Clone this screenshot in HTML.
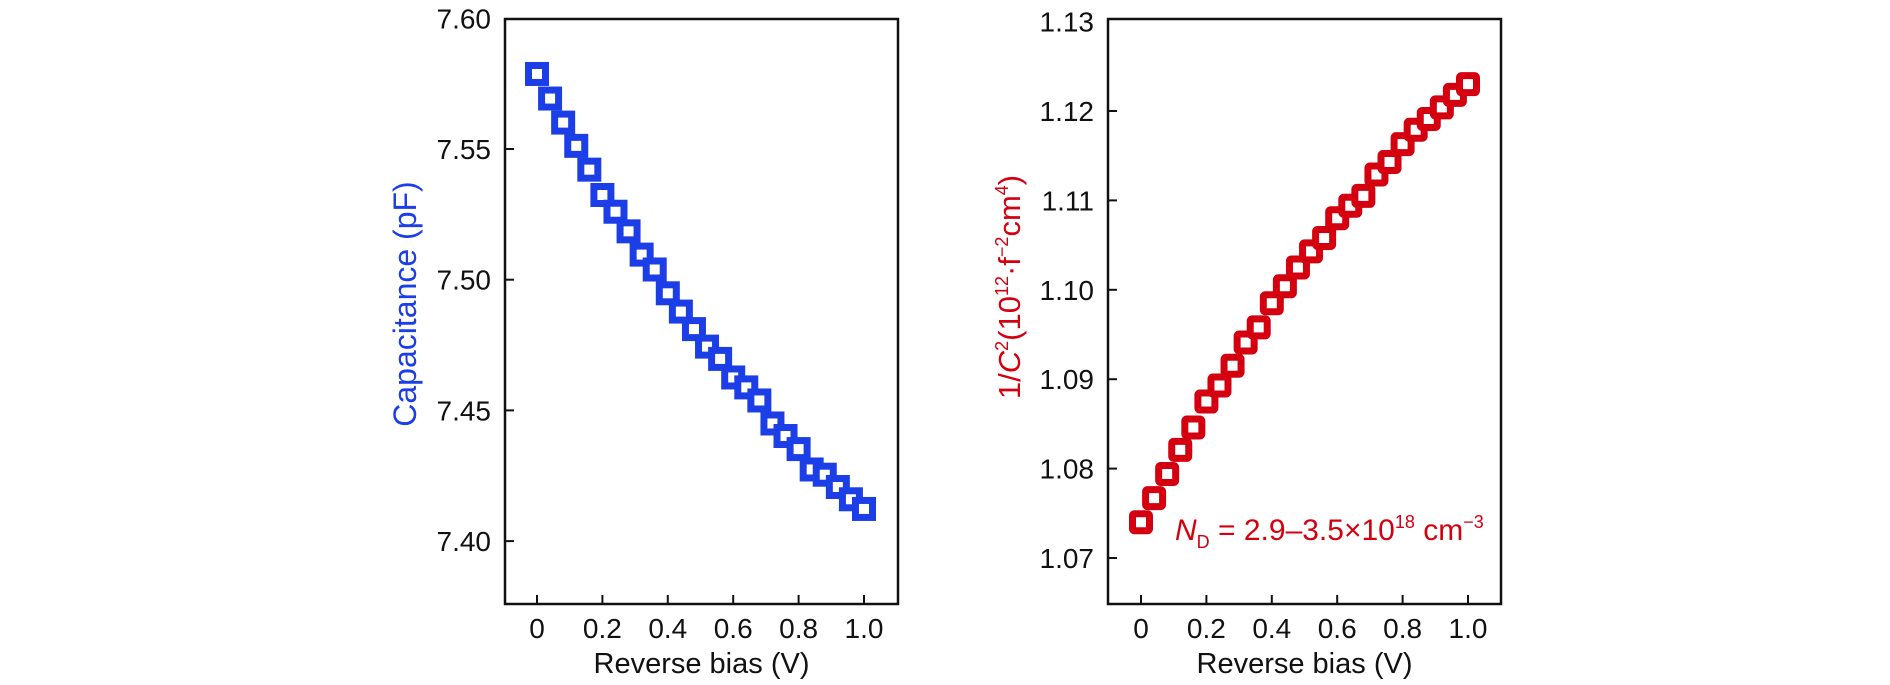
<!DOCTYPE html>
<html><head><meta charset="utf-8"><style>
html,body{margin:0;padding:0;background:#fff;}
svg{display:block;font-family:"Liberation Sans",sans-serif;}
</style></head><body>
<svg id="fig" width="1890" height="685" viewBox="0 0 1890 685" xmlns="http://www.w3.org/2000/svg"></svg>
<script>
const xValues = [0,0.04,0.08,0.12,0.16,0.2,0.24,0.28,0.32,0.36,0.4,0.44,0.48,0.52,0.56,0.6,0.64,0.68,0.72,0.76,0.8,0.84,0.88,0.92,0.96,1.0];
const capValues = [7.5787,7.5693,7.5601,7.5512,7.5421,7.5324,7.5260,7.5185,7.5096,7.5039,7.4948,7.4878,7.4811,7.4744,7.4697,7.4626,7.4588,7.4538,7.4450,7.4402,7.4352,7.4274,7.4254,7.4207,7.4160,7.4123];
const invC2Values = [1.0740,1.0767,1.0794,1.0821,1.0846,1.0875,1.0893,1.0915,1.0941,1.0958,1.0985,1.1004,1.1025,1.1043,1.1058,1.1080,1.1094,1.1105,1.1129,1.1143,1.1163,1.1179,1.1191,1.1204,1.1218,1.1230];
const xTicks = [0,0.2,0.4,0.6,0.8,1.0];
const xTickLabels = ["0","0.2","0.4","0.6","0.8","1.0"];
const capTicks = [7.40,7.45,7.50,7.55,7.60];
const capTickLabels = ["7.40","7.45","7.50","7.55","7.60"];
const invTicks = [1.07,1.08,1.09,1.10,1.11,1.12,1.13];
const invTickLabels = ["1.07","1.08","1.09","1.10","1.11","1.12","1.13"];

const NS = "http://www.w3.org/2000/svg";
const svg = document.getElementById('fig');
function mk(tag, attrs, parent){
  const e = document.createElementNS(NS, tag);
  for (const k in attrs) e.setAttribute(k, attrs[k]);
  (parent||svg).appendChild(e);
  return e;
}

function panel(cfg){
  const g = mk('g', {});
  
  
  const L=cfg.left, R=cfg.right, T=19, B=604;
  const sx = v => cfg.x0px + (v - 0) * (cfg.x1px - cfg.x0px) / 1.0;
  const sy = v => cfg.yRefPx + (cfg.yRef - v) * cfg.pxPerUnit;
  const frame = mk('rect', {x:L, y:T, width:R-L, height:B-T, fill:'none', stroke:'#111', 'stroke-width':2.5}, g);
  
  
  xTicks.forEach((t,i)=>{
    const x = sx(t);
    const tk = mk('line', {x1:x, x2:x, y1:B, y2:B-9, stroke:'#111', 'stroke-width':2}, g);
    
    
    const lb = mk('text', {x:x, y:638, 'text-anchor':'middle', 'font-size':28, fill:'#111'}, g);
    lb.textContent = xTickLabels[i];
    
    
  });
  cfg.ticks.forEach((t,i)=>{
    const y = sy(t);
    if (y > T+3) {
      const tk = mk('line', {x1:L, x2:L+9, y1:y, y2:y, stroke:'#111', 'stroke-width':2}, g);
      
      
    }
    const lb = mk('text', {x:L-14, y:y+10, 'text-anchor':'end', 'font-size':28, fill:'#111'}, g);
    lb.textContent = cfg.tickLabels[i];
    
    
  });
  const xt = mk('text', {x:(L+R)/2, y:673, 'text-anchor':'middle', 'font-size':29, fill:'#111'}, g);
  xt.textContent = 'Reverse bias (V)';
  
  
  xValues.forEach((xv,i)=>{
    const cx = sx(xv), cy = sy(cfg.values[i]);
    const m = mk('rect', {x:cx-8.5, y:cy-8.5, width:17, height:17, rx:cfg.rx, fill:'#fff', stroke:cfg.color, 'stroke-width':7}, g);
    
    
  });
  return g;
}

panel({name:'capacitance-panel', left:505, right:898, x0px:537, x1px:864, yRef:7.55, yRefPx:149, pxPerUnit:130.7/0.05, ticks:capTicks, tickLabels:capTickLabels, values:capValues, color:'#1b3ee6', rx:0});
panel({name:'inverse-c2-panel', left:1108, right:1501, x0px:1141, x1px:1468, yRef:1.07, yRefPx:558, pxPerUnit:89.4/0.01, ticks:invTicks, tickLabels:invTickLabels, values:invC2Values, color:'#d4000f', rx:2});

(function(){
  const t1=mk('text',{transform:'translate(416,304) rotate(-90)','text-anchor':'middle','font-size':32,fill:'#1b3ee6'});
  t1.textContent='Capacitance (pF)';
  
  
  const t2=mk('text',{transform:'translate(1020,287) rotate(-90)','text-anchor':'middle','font-size':31,fill:'#d4000f'});
  t2.innerHTML='1/<tspan font-style="italic">C</tspan><tspan font-size="18" dy="-12">2</tspan><tspan dy="12">(10</tspan><tspan font-size="18" dy="-12">12</tspan><tspan dy="12">·f</tspan><tspan font-size="18" dy="-12">−2</tspan><tspan dy="12">cm</tspan><tspan font-size="18" dy="-12">4</tspan><tspan dy="12">)</tspan>';
  
  
  const t3=mk('text',{x:1175,y:540,'font-size':30,fill:'#d4000f'});
  t3.innerHTML='<tspan font-style="italic">N</tspan><tspan font-size="18" dy="8">D</tspan><tspan dy="-8"> = 2.9–3.5×10</tspan><tspan font-size="18" dy="-12">18</tspan><tspan dy="12"> cm</tspan><tspan font-size="18" dy="-12">−3</tspan>';
  
  
})();
</script>
</body></html>
